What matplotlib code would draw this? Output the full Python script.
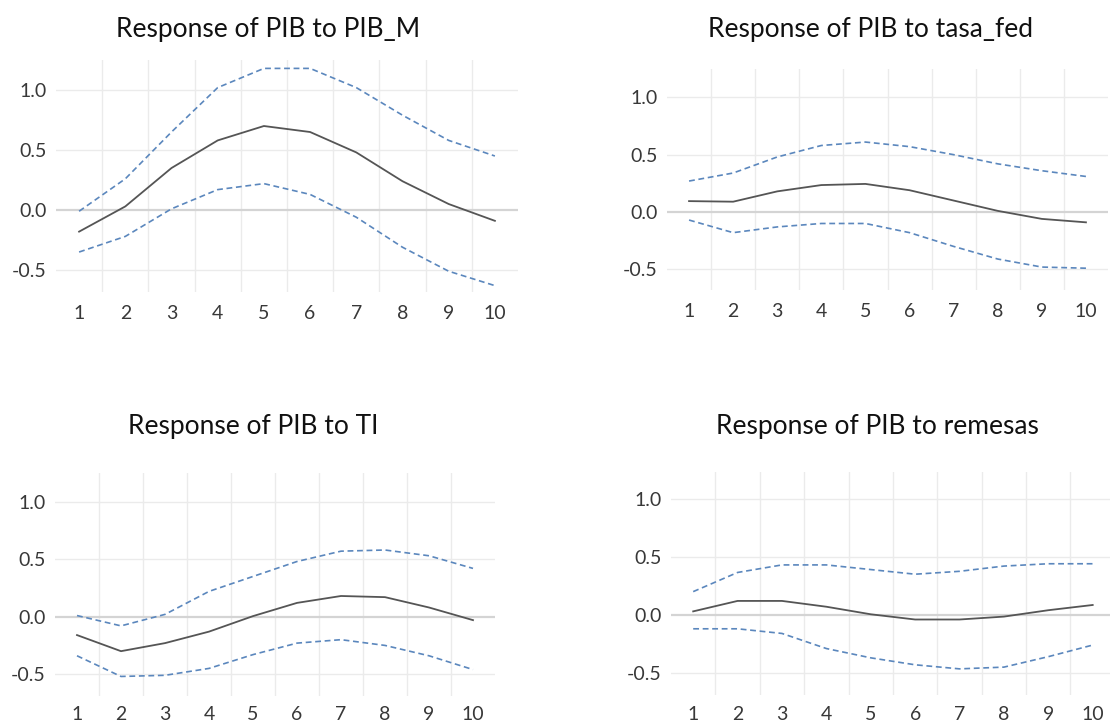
import matplotlib
matplotlib.use("Agg")
import matplotlib.pyplot as plt
from matplotlib.ticker import FixedLocator

plt.rcParams['font.family'] = ['Lato', 'DejaVu Sans']

# Horizon (periods)
periods = [1, 2, 3, 4, 5, 6, 7, 8, 9, 10]

titles = ["Response of PIB to PIB_M", "Response of PIB to tasa_fed",
          "Response of PIB to TI", "Response of PIB to remesas"]

# Impulse responses (solid) and +/- 2 S.E. bands (dashed)
pib_m_resp = [-0.18, 0.03, 0.35, 0.58, 0.70, 0.65, 0.48, 0.24, 0.05, -0.09]
pib_m_upper = [-0.01, 0.26, 0.65, 1.02, 1.18, 1.18, 1.02, 0.79, 0.58, 0.45]
pib_m_lower = [-0.35, -0.22, 0.01, 0.17, 0.22, 0.13, -0.06, -0.31, -0.51, -0.63]

tasa_fed_resp = [0.095, 0.09, 0.18, 0.235, 0.245, 0.19, 0.10, 0.01, -0.06, -0.09]
tasa_fed_upper = [0.27, 0.34, 0.48, 0.58, 0.61, 0.57, 0.50, 0.42, 0.36, 0.31]
tasa_fed_lower = [-0.07, -0.18, -0.13, -0.10, -0.10, -0.18, -0.30, -0.41, -0.48, -0.49]

ti_resp = [-0.16, -0.30, -0.23, -0.13, 0.005, 0.12, 0.18, 0.17, 0.08, -0.03]
ti_upper = [0.01, -0.08, 0.02, 0.22, 0.35, 0.48, 0.57, 0.58, 0.53, 0.42]
ti_lower = [-0.34, -0.52, -0.51, -0.45, -0.33, -0.23, -0.20, -0.25, -0.34, -0.46]

remesas_resp = [0.03, 0.12, 0.12, 0.07, 0.005, -0.04, -0.04, -0.015, 0.04, 0.085]
remesas_upper = [0.20, 0.365, 0.43, 0.43, 0.39, 0.35, 0.375, 0.42, 0.44, 0.44]
remesas_lower = [-0.12, -0.12, -0.16, -0.29, -0.37, -0.43, -0.465, -0.45, -0.36, -0.26]

y_ticks = [-0.5, 0.0, 0.5, 1.0]
y_tick_labels = ["-0.5", "0.0", "0.5", "1.0"]

W, H = 1110, 722
fig = plt.figure(figsize=(W / 100, H / 100), dpi=100)

# panel boxes in pixels: left, right, top, bottom ; ylim ; title anchor (centre x, baseline y)
panels = [
    dict(box=(56, 518, 60, 292), ylim=(-0.683, 1.25), xlim=(0.5, 10.5), tpos=(268, 37),
         xpad=9.5, data=(pib_m_resp, pib_m_upper, pib_m_lower)),
    dict(box=(667, 1108, 69, 290), ylim=(-0.68, 1.247), xlim=(0.5, 10.5), tpos=(871, 37),
         xpad=9.5, data=(tasa_fed_resp, tasa_fed_upper, tasa_fed_lower)),
    dict(box=(55, 495, 473, 696), ylim=(-0.69, 1.25), xlim=(0.5, 10.5), tpos=(253, 434),
         xpad=7.5, data=(ti_resp, ti_upper, ti_lower)),
    dict(box=(671, 1110, 472, 695), ylim=(-0.69, 1.23), xlim=(0.5, 10.39), tpos=(877, 434),
         xpad=8.0, data=(remesas_resp, remesas_upper, remesas_lower)),
]

for p, title in zip(panels, titles):
    l, r, t, b = p["box"]
    ax = fig.add_axes([l / W, 1 - b / H, (r - l) / W, (b - t) / H])
    resp, upper, lower = p["data"]
    ax.plot(periods, upper, color='#5b87bd', lw=1.2, ls=(0, (3.5, 2.2)), zorder=3)
    ax.plot(periods, lower, color='#5b87bd', lw=1.2, ls=(0, (3.5, 2.2)), zorder=3)
    ax.plot(periods, resp, color='#555555', lw=1.3, zorder=4)
    ax.axhline(0, color='#d4d4d4', lw=1.6, zorder=2)

    ax.set_xlim(*p["xlim"])
    ax.set_ylim(*p["ylim"])
    ax.set_xticks(periods)
    ax.set_xticklabels([str(v) for v in periods])
    ax.xaxis.set_minor_locator(FixedLocator([v + 0.5 for v in periods[:-1]]))
    ax.set_yticks(y_ticks)
    ax.set_yticklabels(y_tick_labels)
    ax.grid(False)
    ax.grid(True, axis='x', which='minor', color='#ebebeb', lw=1.0)
    for yv in y_ticks:
        if yv != 0:
            ax.axhline(yv, color='#ebebeb', lw=1.0, zorder=1)
    ax.tick_params(axis='both', which='both', length=0, labelsize=14,
                   labelcolor='#383838')
    ax.tick_params(axis='x', pad=p["xpad"])
    ax.tick_params(axis='y', pad=6.5)
    for s in ax.spines.values():
        s.set_visible(False)
    ax.set_facecolor('white')

    tx, ty = p["tpos"]
    fig.text(tx / W, 1 - ty / H, title, ha='center', va='baseline',
             fontsize=19, color='#111111')

fig.savefig("out.png", dpi=100, facecolor='white')
